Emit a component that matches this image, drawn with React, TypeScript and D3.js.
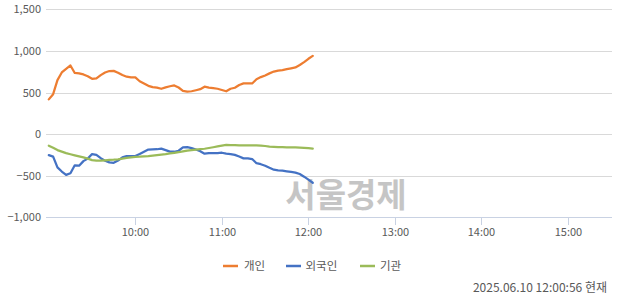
import React from "react";
import * as d3 from "d3";

const times = [
  "09:00","09:03","09:06","09:09","09:12","09:15","09:18","09:21","09:24","09:27",
  "09:30","09:33","09:36","09:39","09:42","09:45","09:48","09:51","09:54","09:57",
  "10:00","10:03","10:06","10:09","10:12","10:15","10:18","10:21","10:24","10:27",
  "10:30","10:33","10:36","10:39","10:42","10:45","10:48","10:51","10:54","10:57",
  "11:00","11:03","11:06","11:09","11:12","11:15","11:18","11:21","11:24","11:27",
  "11:30","11:33","11:36","11:39","11:42","11:45","11:48","11:51","11:54","11:57",
  "12:00","12:03",
];

const individual = [
  417, 480, 649, 741, 785, 825, 735, 730, 717, 695,
  665, 669, 709, 741, 758, 760, 738, 710, 690, 681,
  681, 635, 608, 580, 565, 558, 545, 562, 575, 585,
  560, 519, 511, 515, 527, 540, 570, 558, 552, 545,
  530, 515, 545, 557, 590, 609, 609, 609, 660, 685,
  705, 730, 752, 763, 768, 780, 790, 801, 830, 865,
  905, 940,
];

const foreign = [
  -252, -270, -400, -450, -490, -470, -375, -380, -325, -295,
  -240, -250, -290, -320, -340, -345, -318, -280, -264, -264,
  -264, -240, -212, -186, -184, -182, -175, -193, -210, -212,
  -200, -160, -157, -168, -185, -205, -235, -228, -230, -228,
  -224, -235, -240, -250, -270, -292, -292, -300, -350, -362,
  -380, -405, -428, -435, -440, -447, -455, -463, -480, -512,
  -548, -585,
];

const institution = [
  -140, -165, -192, -210, -228, -242, -255, -268, -280, -295,
  -312, -318, -320, -316, -311, -308, -303, -294, -285, -280,
  -274, -272, -268, -264, -258, -252, -246, -240, -232, -225,
  -218, -208, -198, -192, -187, -182, -176, -167, -158, -148,
  -138, -130, -132, -134, -136, -136, -136, -136, -136, -138,
  -143, -150, -153, -156, -158, -160, -160, -160, -162, -165,
  -170, -175,
];

const xTickLabels = ["10:00", "11:00", "12:00", "13:00", "14:00", "15:00"];
const yTicks = [-1000, -500, 0, 500, 1000, 1500];
const seriesNames = ["개인", "외국인", "기관"];
const footerText = "2025.06.10 12:00:56 현재";
const watermark = "서울경제";

const colors = ["#ED7D31", "#4472C4", "#9BBB59"];
const FONT = "'Noto Sans CJK KR', 'Noto Sans', sans-serif";

const toMin = (t: string) => {
  const [h, m] = t.split(":").map(Number);
  return (h - 9) * 60 + m;
};

export default function App() {
  const W = 640, H = 294;
  const plotLeft = 46, plotRight = 612;
  const x = d3.scaleLinear().domain([0, 390]).range([48.8, 611.3]);
  const y = d3.scaleLinear().domain([-1000, 1500]).range([217.3, 9.3]);
  const fmt = d3.format(",");
  const series = [individual, foreign, institution];
  const line = d3
    .line<number>()
    .x((_, i) => x(toMin(times[i])))
    .y((d) => y(d))
    .curve(d3.curveLinear);

  const legendItems = [
    { lx: 223, tx: 244 },
    { lx: 286, tx: 305.5 },
    { lx: 360, tx: 380 },
  ];

  return (
    <svg
      width={W}
      height={H}
      style={{ position: "absolute", left: 0, top: 0, background: "#fff" }}
      fontFamily={FONT}
    >
      {yTicks.map((t) =>
        t === -1000 ? null : (
          <line
            key={t}
            x1={plotLeft}
            x2={plotRight}
            y1={Math.round(y(t)) + 0.5}
            y2={Math.round(y(t)) + 0.5}
            stroke="#d9d9d9"
            strokeWidth={1}
          />
        )
      )}
      {yTicks.map((t) => (
        <text
          key={"yl" + t}
          x={41}
          y={y(t) + 4}
          textAnchor="end"
          fontSize={11}
          fill="#595959"
        >
          {fmt(t)}
        </text>
      ))}
      <text
        x={346}
        y={207}
        textAnchor="middle"
        fontSize={33}
        fontWeight="bold"
        fill="#bcbcbc"
        opacity={0.85}
      >
        {watermark}
      </text>
      <line
        x1={plotLeft}
        x2={plotRight}
        y1={Math.round(y(-1000)) + 0.5}
        y2={Math.round(y(-1000)) + 0.5}
        stroke="#c9d2e3"
        strokeWidth={1}
      />
      {xTickLabels.map((lab) => {
        const xx = Math.round(x(toMin(lab))) + 0.5;
        return (
          <g key={lab}>
            <line x1={xx} x2={xx} y1={217} y2={225} stroke="#c9d2e3" strokeWidth={1} />
            <text x={xx} y={236} textAnchor="middle" fontSize={11} fill="#595959">
              {lab}
            </text>
          </g>
        );
      })}
      {series.map((s, i) => (
        <path
          key={i}
          d={line(s) || ""}
          fill="none"
          stroke={colors[i]}
          strokeWidth={2.25}
          strokeLinejoin="round"
          strokeLinecap="round"
        />
      ))}
      {seriesNames.map((n, i) => (
        <g key={n}>
          <line
            x1={legendItems[i].lx}
            x2={legendItems[i].lx + 15}
            y1={266}
            y2={266}
            stroke={colors[i]}
            strokeWidth={2.5}
          />
          <text x={legendItems[i].tx} y={270} fontSize={11.5} fill="#595959">
            {n}
          </text>
        </g>
      ))}
      <text x={607} y={292} textAnchor="end" fontSize={12} fill="#595959">
        {footerText}
      </text>
    </svg>
  );
}
